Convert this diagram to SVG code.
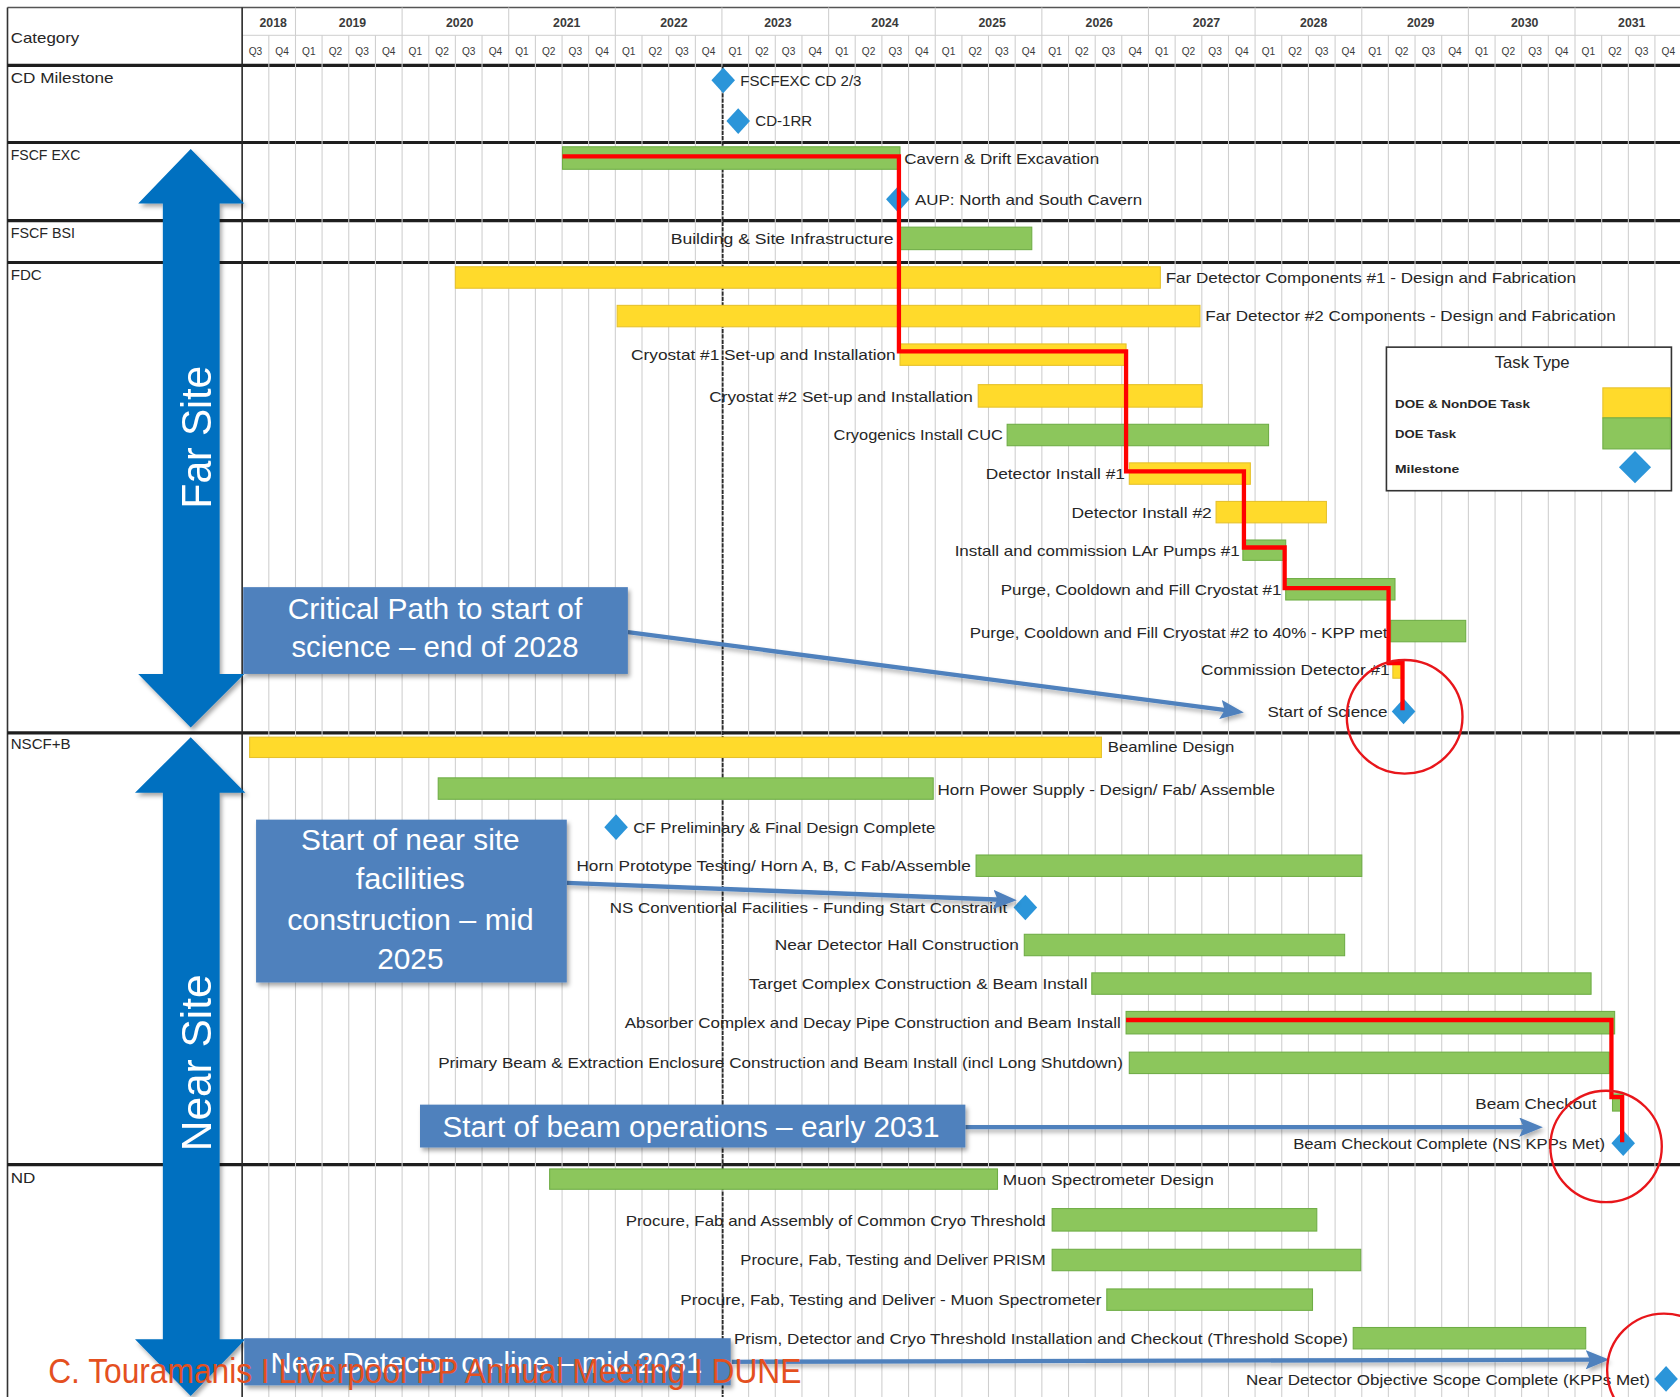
<svg xmlns="http://www.w3.org/2000/svg" width="1680" height="1397" viewBox="0 0 1680 1397">
<style>
text{font-family:"Liberation Sans Narrow","Liberation Sans",Arial,sans-serif;fill:#262626}
.lbl{font-size:14.5px}
.end{text-anchor:end}
.cat{font-size:14px}
.yr{font-size:11.5px;font-weight:bold;text-anchor:middle;fill:#3a3a3a}
.qt{font-size:9.5px;text-anchor:middle;fill:#3a3a3a}
.g{fill:#8CC65C;stroke:#6FAD46;stroke-width:1}
.y{fill:#FFDA2B;stroke:#E6C12C;stroke-width:1}
.dm{fill:#2B95D9}
.grid{stroke:#CFCFCF;stroke-width:1;fill:none}
.rule{stroke:#1E1E1E;stroke-width:3}
.crit{fill:none;stroke:#FF0000;stroke-width:4;stroke-linejoin:miter}
.circ{fill:none;stroke:#E8161B;stroke-width:2.2}
.call{fill:#4F81BD}
.ctx{fill:#fff;font-size:28px;text-anchor:middle}
.carr{stroke:#4F81BD;stroke-width:4;fill:none}
.big{fill:#0070C0}
.site{fill:#fff;font-size:40px;text-anchor:middle}
.leg{font-size:11px;font-weight:bold}
</style>
<defs>
<path id="dia" d="M0,-12 L11,0 L0,12 L-11,0Z"/>
<marker id="ah" markerUnits="userSpaceOnUse" markerWidth="22" markerHeight="18" viewBox="0 0 22 18" refX="14" refY="9" orient="auto">
<path d="M0,0 L22,9 L0,18 L4,9Z" fill="#4F81BD"/>
</marker>
<filter id="sh" x="-10%" y="-10%" width="130%" height="140%">
<feDropShadow dx="2" dy="3" stdDeviation="2" flood-color="#000" flood-opacity="0.35"/>
</filter>
<filter id="shl" filterUnits="userSpaceOnUse" x="0" y="0" width="1600" height="1400">
<feDropShadow dx="2" dy="3" stdDeviation="2" flood-color="#000" flood-opacity="0.3"/>
</filter>
</defs>
<rect width="1680" height="1397" fill="#fff"/>
<g transform="scale(1.0714286)">
<g id="table">
<line x1="7" y1="7" x2="1568" y2="7" stroke="#555" stroke-width="1.5"/>
<line x1="7" y1="7" x2="7" y2="1304" stroke="#333" stroke-width="1.5"/>
<line x1="226" y1="33" x2="1568" y2="33" stroke="#D8D8D8" stroke-width="1"/>
<g class="rule">
<line x1="7" y1="61" x2="1568" y2="61"/>
<line x1="7" y1="133" x2="1568" y2="133"/>
<line x1="7" y1="206" x2="1568" y2="206"/>
<line x1="7" y1="245" x2="1568" y2="245"/>
<line x1="7" y1="684" x2="1568" y2="684"/>
<line x1="7" y1="1087" x2="1568" y2="1087"/>
</g>
<path class="grid" d="M250.9,33V1304M275.8,7V1304M300.6,33V1304M325.5,33V1304M350.4,33V1304M375.3,7V1304M400.2,33V1304M425,33V1304M449.9,33V1304M474.8,7V1304M499.7,33V1304M524.6,33V1304M549.4,33V1304M574.3,7V1304M599.2,33V1304M624.1,33V1304M649,33V1304M673.8,7V1304M698.7,33V1304M723.6,33V1304M748.5,33V1304M773.4,7V1304M798.2,33V1304M823.1,33V1304M848,33V1304M872.9,7V1304M897.8,33V1304M922.6,33V1304M947.5,33V1304M972.4,7V1304M997.3,33V1304M1022.2,33V1304M1047,33V1304M1071.9,7V1304M1096.8,33V1304M1121.7,33V1304M1146.6,33V1304M1171.4,7V1304M1196.3,33V1304M1221.2,33V1304M1246.1,33V1304M1271,7V1304M1295.8,33V1304M1320.7,33V1304M1345.6,33V1304M1370.5,7V1304M1395.4,33V1304M1420.2,33V1304M1445.1,33V1304M1470,7V1304M1494.9,33V1304M1519.8,33V1304M1544.6,33V1304"/>
<line x1="226" y1="7" x2="226" y2="1304" stroke="#2a2a2a" stroke-width="1.5"/>
<line x1="674.5" y1="62" x2="674.5" y2="1304" stroke="#2a2a2a" stroke-width="1.7" stroke-dasharray="4,1"/>
<g class="cat">
<text x="10" y="40" textLength="64" lengthAdjust="spacingAndGlyphs">Category</text>
<text x="10" y="77" textLength="96" lengthAdjust="spacingAndGlyphs">CD Milestone</text>
<text x="10" y="149" textLength="65" lengthAdjust="spacingAndGlyphs">FSCF EXC</text>
<text x="10" y="222" textLength="60" lengthAdjust="spacingAndGlyphs">FSCF BSI</text>
<text x="10" y="261" textLength="29" lengthAdjust="spacingAndGlyphs">FDC</text>
<text x="10" y="699" textLength="56" lengthAdjust="spacingAndGlyphs">NSCF+B</text>
<text x="10" y="1104" textLength="23" lengthAdjust="spacingAndGlyphs">ND</text>
</g>
<g id="years">
<text class="yr" x="255" y="25">2018</text>
<text class="yr" x="329" y="25">2019</text>
<text class="yr" x="429" y="25">2020</text>
<text class="yr" x="529" y="25">2021</text>
<text class="yr" x="629" y="25">2022</text>
<text class="yr" x="726" y="25">2023</text>
<text class="yr" x="826" y="25">2024</text>
<text class="yr" x="926" y="25">2025</text>
<text class="yr" x="1026" y="25">2026</text>
<text class="yr" x="1126" y="25">2027</text>
<text class="yr" x="1226" y="25">2028</text>
<text class="yr" x="1326" y="25">2029</text>
<text class="yr" x="1423" y="25">2030</text>
<text class="yr" x="1523" y="25">2031</text>
</g>
<g id="quarters" class="qt">
<text class="qt" x="238.4" y="51">Q3</text><text class="qt" x="263.3" y="51">Q4</text><text class="qt" x="288.2" y="51">Q1</text><text class="qt" x="313.1" y="51">Q2</text><text class="qt" x="338" y="51">Q3</text><text class="qt" x="362.8" y="51">Q4</text><text class="qt" x="387.7" y="51">Q1</text><text class="qt" x="412.6" y="51">Q2</text><text class="qt" x="437.5" y="51">Q3</text><text class="qt" x="462.4" y="51">Q4</text><text class="qt" x="487.2" y="51">Q1</text><text class="qt" x="512.1" y="51">Q2</text><text class="qt" x="537" y="51">Q3</text><text class="qt" x="561.9" y="51">Q4</text><text class="qt" x="586.8" y="51">Q1</text><text class="qt" x="611.6" y="51">Q2</text><text class="qt" x="636.5" y="51">Q3</text><text class="qt" x="661.4" y="51">Q4</text><text class="qt" x="686.3" y="51">Q1</text><text class="qt" x="711.2" y="51">Q2</text><text class="qt" x="736" y="51">Q3</text><text class="qt" x="760.9" y="51">Q4</text><text class="qt" x="785.8" y="51">Q1</text><text class="qt" x="810.7" y="51">Q2</text><text class="qt" x="835.6" y="51">Q3</text><text class="qt" x="860.4" y="51">Q4</text><text class="qt" x="885.3" y="51">Q1</text><text class="qt" x="910.2" y="51">Q2</text><text class="qt" x="935.1" y="51">Q3</text><text class="qt" x="960" y="51">Q4</text><text class="qt" x="984.8" y="51">Q1</text><text class="qt" x="1009.7" y="51">Q2</text><text class="qt" x="1034.6" y="51">Q3</text><text class="qt" x="1059.5" y="51">Q4</text><text class="qt" x="1084.4" y="51">Q1</text><text class="qt" x="1109.2" y="51">Q2</text><text class="qt" x="1134.1" y="51">Q3</text><text class="qt" x="1159" y="51">Q4</text><text class="qt" x="1183.9" y="51">Q1</text><text class="qt" x="1208.8" y="51">Q2</text><text class="qt" x="1233.6" y="51">Q3</text><text class="qt" x="1258.5" y="51">Q4</text><text class="qt" x="1283.4" y="51">Q1</text><text class="qt" x="1308.3" y="51">Q2</text><text class="qt" x="1333.2" y="51">Q3</text><text class="qt" x="1358" y="51">Q4</text><text class="qt" x="1382.9" y="51">Q1</text><text class="qt" x="1407.8" y="51">Q2</text><text class="qt" x="1432.7" y="51">Q3</text><text class="qt" x="1457.6" y="51">Q4</text><text class="qt" x="1482.4" y="51">Q1</text><text class="qt" x="1507.3" y="51">Q2</text><text class="qt" x="1532.2" y="51">Q3</text><text class="qt" x="1557.1" y="51">Q4</text>
</g>
</g>

<g id="cd-fscfexc-cd23"><use href="#dia" x="675" y="75" class="dm"/><text class="lbl" x="691" y="80" textLength="113" lengthAdjust="spacingAndGlyphs">FSCFEXC CD 2/3</text></g>
<g id="cd-1rr"><use href="#dia" x="689" y="113" class="dm"/><text class="lbl" x="705" y="118" textLength="53" lengthAdjust="spacingAndGlyphs">CD-1RR</text></g>

<g id="cavern-drift"><rect class="g" x="525" y="137" width="315" height="21"/><text class="lbl" x="844" y="153" textLength="182" lengthAdjust="spacingAndGlyphs">Cavern &amp; Drift Excavation</text></g>
<g id="aup"><use href="#dia" x="838" y="186" class="dm"/><text class="lbl" x="854" y="191" textLength="212" lengthAdjust="spacingAndGlyphs">AUP: North and South Cavern</text></g>
<g id="bsi"><rect class="g" x="840" y="212" width="123" height="21"/><text class="lbl end" x="834" y="228" textLength="208" lengthAdjust="spacingAndGlyphs">Building &amp; Site Infrastructure</text></g>

<g id="fdc1"><rect class="y" x="425" y="249" width="658" height="20"/><text class="lbl" x="1088" y="264" textLength="383" lengthAdjust="spacingAndGlyphs">Far Detector Components #1 - Design and Fabrication</text></g>
<g id="fdc2"><rect class="y" x="576" y="285" width="544" height="20"/><text class="lbl" x="1125" y="300" textLength="383" lengthAdjust="spacingAndGlyphs">Far Detector #2 Components - Design and Fabrication</text></g>
<g id="cryo1"><rect class="y" x="840" y="321" width="211" height="20"/><text class="lbl end" x="836" y="336" textLength="247" lengthAdjust="spacingAndGlyphs">Cryostat #1 Set-up and Installation</text></g>
<g id="cryo2"><rect class="y" x="913" y="359" width="209" height="21"/><text class="lbl end" x="908" y="375" textLength="246" lengthAdjust="spacingAndGlyphs">Cryostat #2 Set-up and Installation</text></g>
<g id="cuc"><rect class="g" x="940" y="396" width="244" height="20"/><text class="lbl end" x="936" y="411" textLength="158" lengthAdjust="spacingAndGlyphs">Cryogenics Install CUC</text></g>
<g id="di1"><rect class="y" x="1054" y="432" width="113" height="20"/><text class="lbl end" x="1050" y="447" textLength="130" lengthAdjust="spacingAndGlyphs">Detector Install #1</text></g>
<g id="di2"><rect class="y" x="1135" y="468" width="103" height="20"/><text class="lbl end" x="1131" y="483" textLength="131" lengthAdjust="spacingAndGlyphs">Detector Install #2</text></g>
<g id="lar"><rect class="g" x="1160" y="504" width="40" height="19"/><text class="lbl end" x="1157" y="519" textLength="266" lengthAdjust="spacingAndGlyphs">Install and commission LAr Pumps #1</text></g>
<g id="purge1"><rect class="g" x="1200" y="540" width="102" height="20"/><text class="lbl end" x="1196" y="555" textLength="262" lengthAdjust="spacingAndGlyphs">Purge, Cooldown and Fill Cryostat #1</text></g>
<g id="purge2"><rect class="g" x="1298" y="579" width="70" height="20"/><text class="lbl end" x="1295" y="595" textLength="390" lengthAdjust="spacingAndGlyphs">Purge, Cooldown and Fill Cryostat #2 to 40% - KPP met</text></g>
<g id="commission"><rect class="y" x="1300" y="617" width="10" height="16"/><text class="lbl end" x="1297" y="630" textLength="176" lengthAdjust="spacingAndGlyphs">Commission Detector #1</text></g>
<g id="start-science"><use href="#dia" x="1310" y="664" class="dm"/><text class="lbl end" x="1295" y="669" textLength="112" lengthAdjust="spacingAndGlyphs">Start of Science</text></g>

<g id="beamline"><rect class="y" x="233" y="688" width="795" height="19"/><text class="lbl" x="1034" y="702" textLength="118" lengthAdjust="spacingAndGlyphs">Beamline Design</text></g>
<g id="hornps"><rect class="g" x="409" y="726" width="462" height="20"/><text class="lbl" x="875" y="742" textLength="315" lengthAdjust="spacingAndGlyphs">Horn Power Supply - Design/ Fab/ Assemble</text></g>
<g id="cf-design"><use href="#dia" x="575" y="772" class="dm"/><text class="lbl" x="591" y="777" textLength="282" lengthAdjust="spacingAndGlyphs">CF Preliminary &amp; Final Design Complete</text></g>
<g id="horn-proto"><rect class="g" x="911" y="798" width="360" height="20"/><text class="lbl end" x="906" y="813" textLength="368" lengthAdjust="spacingAndGlyphs">Horn Prototype Testing/ Horn A, B, C Fab/Assemble</text></g>
<g id="ns-cf"><use href="#dia" x="957" y="847" class="dm"/><text class="lbl end" x="940" y="852" textLength="371" lengthAdjust="spacingAndGlyphs">NS Conventional Facilities - Funding Start Constraint</text></g>
<g id="ndhall"><rect class="g" x="956" y="872" width="299" height="20"/><text class="lbl end" x="951" y="887" textLength="228" lengthAdjust="spacingAndGlyphs">Near Detector Hall Construction</text></g>
<g id="target"><rect class="g" x="1019" y="908" width="466" height="20"/><text class="lbl end" x="1015" y="923" textLength="316" lengthAdjust="spacingAndGlyphs">Target Complex Construction &amp; Beam Install</text></g>
<g id="absorber"><rect class="g" x="1051" y="944" width="456" height="21"/><text class="lbl end" x="1046" y="959" textLength="463" lengthAdjust="spacingAndGlyphs">Absorber Complex and Decay Pipe Construction and Beam Install</text></g>
<g id="primary"><rect class="g" x="1054" y="982" width="448" height="20"/><text class="lbl end" x="1048" y="997" textLength="639" lengthAdjust="spacingAndGlyphs">Primary Beam &amp; Extraction Enclosure Construction and Beam Install (incl Long Shutdown)</text></g>
<g id="beam-checkout"><rect class="g" x="1505" y="1021" width="10" height="16"/><text class="lbl end" x="1490" y="1035" textLength="113" lengthAdjust="spacingAndGlyphs">Beam Checkout</text></g>
<g id="beam-checkout-complete"><use href="#dia" x="1515" y="1067" class="dm"/><text class="lbl end" x="1498" y="1072" textLength="291" lengthAdjust="spacingAndGlyphs">Beam Checkout Complete (NS KPPs Met)</text></g>

<g id="muon-design"><rect class="g" x="513" y="1091" width="418" height="19"/><text class="lbl" x="936" y="1106" textLength="197" lengthAdjust="spacingAndGlyphs">Muon Spectrometer Design</text></g>
<g id="cryo-threshold"><rect class="g" x="982" y="1128" width="247" height="21"/><text class="lbl end" x="976" y="1144" textLength="392" lengthAdjust="spacingAndGlyphs">Procure, Fab and Assembly of Common Cryo Threshold</text></g>
<g id="prism"><rect class="g" x="982" y="1166" width="288" height="20"/><text class="lbl end" x="976" y="1181" textLength="285" lengthAdjust="spacingAndGlyphs">Procure, Fab, Testing and Deliver PRISM</text></g>
<g id="muon-spec"><rect class="g" x="1033" y="1203" width="192" height="20"/><text class="lbl end" x="1028" y="1218" textLength="393" lengthAdjust="spacingAndGlyphs">Procure, Fab, Testing and Deliver - Muon Spectrometer</text></g>
<g id="prism-install"><rect class="g" x="1263" y="1239" width="217" height="20"/><text class="lbl end" x="1258" y="1254" textLength="573" lengthAdjust="spacingAndGlyphs">Prism, Detector and Cryo Threshold Installation and Checkout (Threshold Scope)</text></g>
<g id="nd-complete"><use href="#dia" x="1555" y="1287" class="dm"/><text class="lbl end" x="1540" y="1293" textLength="377" lengthAdjust="spacingAndGlyphs">Near Detector Objective Scope Complete (KPPs Met)</text></g>

<g id="legend">
<rect x="1294" y="324" width="266" height="134" fill="#fff" stroke="#333" stroke-width="1.5"/>
<text x="1430" y="343" font-size="15" text-anchor="middle" textLength="70" lengthAdjust="spacingAndGlyphs">Task Type</text>
<text class="leg" x="1302" y="381" textLength="126" lengthAdjust="spacingAndGlyphs">DOE &amp; NonDOE Task</text>
<text class="leg" x="1302" y="409" textLength="57" lengthAdjust="spacingAndGlyphs">DOE Task</text>
<text class="leg" x="1302" y="441" textLength="60" lengthAdjust="spacingAndGlyphs">Milestone</text>
<rect class="y" x="1496" y="362" width="63" height="28"/>
<rect class="g" x="1496" y="390" width="63" height="29"/>
<path class="dm" d="M1526,421 L1541,436 L1526,451 L1511,436Z"/>
</g>

<g id="connectors">
<path class="crit" d="M525,146 H839 V328 H1051 V440 H1161 V511 H1199 V549 H1296 V619 H1309 V663"/>
<path class="crit" d="M1051,952 H1504 V1024 H1514 V1066"/>
<g filter="url(#shl)">
<line class="carr" x1="586" y1="590" x2="1153" y2="664" marker-end="url(#ah)"/>
<line class="carr" x1="529" y1="824" x2="941" y2="840" marker-end="url(#ah)"/>
<line class="carr" x1="901" y1="1052" x2="1432" y2="1052" marker-end="url(#ah)"/>
<line class="carr" x1="683" y1="1271" x2="1494" y2="1269" marker-end="url(#ah)"/>
</g>
</g>

<g id="highlights">
<ellipse class="circ" cx="1311" cy="669" rx="54" ry="53"/>
<ellipse class="circ" cx="1499" cy="1070" rx="52" ry="52"/>
<ellipse class="circ" cx="1553" cy="1279" rx="53" ry="53"/>
</g>

<g id="far-site" filter="url(#sh)">
<path class="big" d="M178,139 L228,190 L205,190 L205,629 L228,629 L178,679 L129,629 L152,629 L152,190 L129,190Z"/>
<text class="site" transform="translate(197,408) rotate(-90)" textLength="133" lengthAdjust="spacingAndGlyphs">Far Site</text>
</g>
<g id="near-site" filter="url(#sh)">
<path class="big" d="M178,688 L229,740 L205,740 L205,1250 L229,1250 L178,1303 L126,1250 L152,1250 L152,740 L126,740Z"/>
<text class="site" transform="translate(197,992) rotate(-90)" textLength="165" lengthAdjust="spacingAndGlyphs">Near Site</text>
</g>

<g id="callout-critical">
<rect class="call" x="227" y="548" width="359" height="81" filter="url(#sh)"/>
<text class="ctx" x="406" y="578" textLength="275" lengthAdjust="spacingAndGlyphs">Critical Path to start of</text>
<text class="ctx" x="406" y="613" textLength="268" lengthAdjust="spacingAndGlyphs">science – end of 2028</text>
</g>
<g id="callout-nearsite">
<rect class="call" x="239" y="765" width="290" height="152" filter="url(#sh)"/>
<text class="ctx" x="383" y="793" textLength="204" lengthAdjust="spacingAndGlyphs">Start of near site</text>
<text class="ctx" x="383" y="830" textLength="102" lengthAdjust="spacingAndGlyphs">facilities</text>
<text class="ctx" x="383" y="868" textLength="230" lengthAdjust="spacingAndGlyphs">construction – mid</text>
<text class="ctx" x="383" y="904" textLength="62" lengthAdjust="spacingAndGlyphs">2025</text>
</g>
<g id="callout-beam">
<rect class="call" x="392" y="1031" width="509" height="40" filter="url(#sh)"/>
<text class="ctx" x="645" y="1061" textLength="464" lengthAdjust="spacingAndGlyphs">Start of beam operations – early 2031</text>
</g>
<g id="callout-nd">
<rect class="call" x="228" y="1249" width="454" height="44" filter="url(#sh)"/>
<text class="ctx" x="454" y="1281" textLength="403" lengthAdjust="spacingAndGlyphs">Near Detector on-line – mid 2031</text>
</g>

<text id="footer" x="45" y="1291" font-size="33" style="fill:#E4501F" textLength="703" lengthAdjust="spacingAndGlyphs">C. Touramanis I Liverpool PP Annual Meeting I DUNE</text>
</g>
</svg>
